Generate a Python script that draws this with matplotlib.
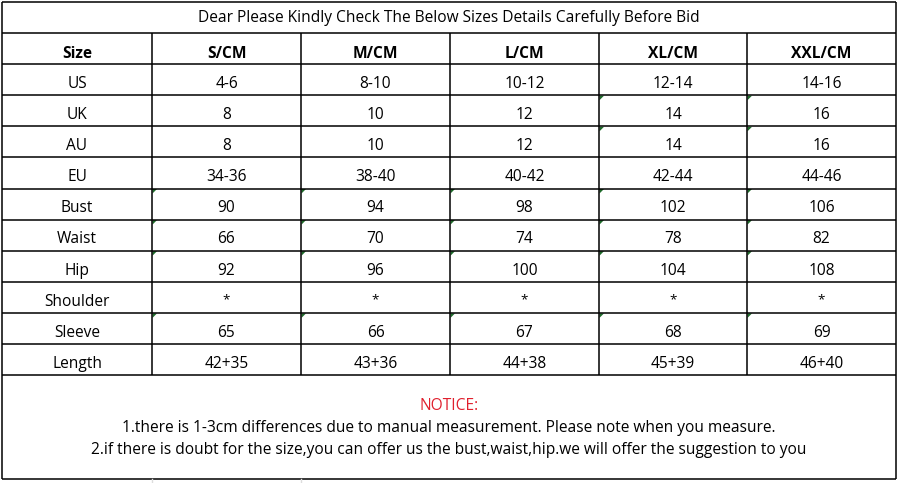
import matplotlib.pyplot as plt
from matplotlib.patches import Polygon

# ---------- data ----------
title = "Dear Please Kindly Check The Below Sizes Details Carefully Before Bid"
header = ["Size", "S/CM", "M/CM", "L/CM", "XL/CM", "XXL/CM"]
row_labels = ["US", "UK", "AU", "EU", "Bust", "Waist", "Hip", "Shoulder", "Sleeve", "Length"]
size_s = ["4-6", "8", "8", "34-36", "90", "66", "92", "*", "65", "42+35"]
size_m = ["8-10", "10", "10", "38-40", "94", "70", "96", "*", "66", "43+36"]
size_l = ["10-12", "12", "12", "40-42", "98", "74", "100", "*", "67", "44+38"]
size_xl = ["12-14", "14", "14", "42-44", "102", "78", "104", "*", "68", "45+39"]
size_xxl = ["14-16", "16", "16", "44-46", "106", "82", "108", "*", "69", "46+40"]
notice = "NOTICE:"
notes = ["1.there is 1-3cm differences due to manual measurement. Please note when you measure.",
         "2.if there is doubt for the size,you can offer us the bust,waist,hip.we will offer the suggestion to you"]
# excel "number stored as text" markers: (row index, size column index)
marked = [(1, 3), (1, 4), (2, 3), (2, 4)] + \
         [(r, c) for r in (4, 5, 6, 8) for c in range(5)]

# ---------- layout (pixels) ----------
col_x = [2, 152, 301, 450, 599, 747, 896]
top, title_bot, row_h = 2, 33, 31.1
table_bot = title_bot + row_h * 11
box_bot = 479
FONT = ["Open Sans", "DejaVu Sans"]
FS = 11.2
lw = 1.1

fig = plt.figure(figsize=(8.98, 4.83), dpi=100)
ax = fig.add_axes([0, 0, 1, 1])
ax.set_xlim(0, 898)
ax.set_ylim(483, 0)
ax.axis("off")

def hline(y, x0=col_x[0], x1=col_x[-1]):
    ax.plot([x0, x1], [y, y], color="black", lw=lw, solid_capstyle="butt")

def vline(x, y0, y1):
    ax.plot([x, x], [y0, y1], color="black", lw=lw, solid_capstyle="butt")

# outer box + title row
hline(top); hline(title_bot); hline(table_bot); hline(box_bot)
vline(col_x[0], top, box_bot); vline(col_x[-1], top, box_bot)
for i in range(1, 11):
    hline(title_bot + row_h * i)
for x in col_x[1:-1]:
    vline(x, title_bot, table_bot)
# faint lines below the box
for x in col_x[1:3]:
    ax.plot([x, x], [box_bot, 483], color="#dddddd", lw=1)

ax.text(449, 18.5, title, ha="center", va="center", fontsize=FS, family=FONT)

centers = [(col_x[i] + col_x[i + 1]) / 2 for i in range(6)]
for i, h in enumerate(header):
    ax.text(centers[i], title_bot + row_h / 2 + 5, h, ha="center", va="center",
            fontsize=FS, fontweight="bold", family=FONT)

cols = [size_s, size_m, size_l, size_xl, size_xxl]
for r, lab in enumerate(row_labels):
    yc = title_bot + row_h * (r + 1.5) + 4.3
    ax.text(centers[0], yc, lab, ha="center", va="center", fontsize=FS, family=FONT)
    for c, vals in enumerate(cols):
        v = vals[r]
        if v == "*":
            ax.text(centers[c + 1], yc - 1.5, v, ha="center", va="center",
                    fontsize=FS - 1.5, family=FONT)
        else:
            ax.text(centers[c + 1], yc, v, ha="center", va="center",
                    fontsize=FS, family=FONT)

for r, c in marked:
    x0 = col_x[c + 1] + 0.5
    y0 = title_bot + row_h * (r + 1) + 0.5
    ax.add_patch(Polygon([(x0, y0), (x0 + 4.5, y0), (x0, y0 + 4.5)],
                         closed=True, color="#1e6b2a", lw=0))

ax.text(449, 406, notice, ha="center", va="center", fontsize=FS,
        color="#e0202e", family=FONT)
ax.text(449, 428, notes[0], ha="center", va="center", fontsize=FS, family=FONT)
ax.text(449, 450, notes[1], ha="center", va="center", fontsize=FS, family=FONT)

fig.savefig("out.png", dpi=100)
